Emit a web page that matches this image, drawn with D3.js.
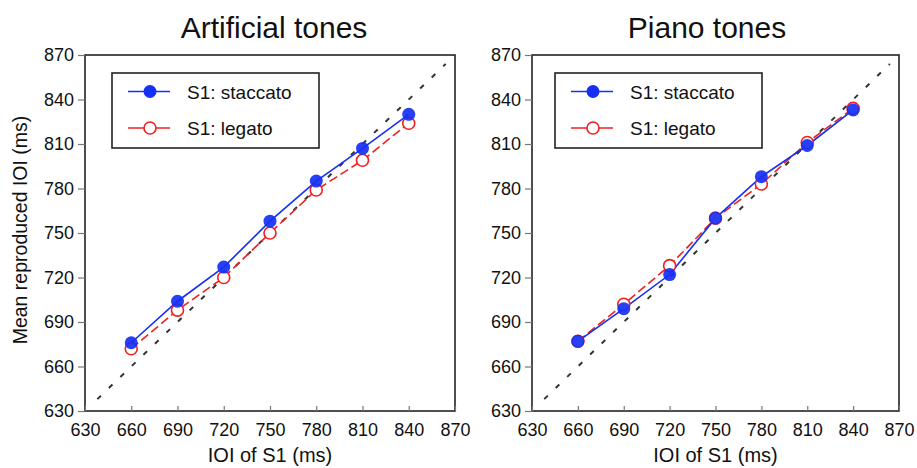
<!DOCTYPE html>
<html>
<head>
<meta charset="utf-8">
<script src="https://cdn.jsdelivr.net/npm/d3@7"></script>
<style>
  html, body { margin: 0; padding: 0; background: #fff; }
  svg { display: block; font-family: "Liberation Sans", Arial, Helvetica, sans-serif; }
</style>
</head>
<body>
<svg id="chart" width="917" height="468"></svg>
<script>
// S1 inter-onset intervals (ms)
const ioi = [660, 690, 720, 750, 780, 810, 840];

// Mean reproduced IOI (ms)
const artificialStaccato = [676, 704, 727, 758, 785, 807, 830];
const artificialLegato   = [672, 698, 720, 750, 779, 799, 824];
const pianoStaccato      = [677, 699, 722, 760, 788, 809, 833];
const pianoLegato        = [677, 702, 728, 760, 783, 811, 834];

const axisTicks = [630, 660, 690, 720, 750, 780, 810, 840, 870];
const axisDomain = [630, 870];
const identityLine = [638, 864];

const panelTitles = ["Artificial tones", "Piano tones"];
const seriesNames = ["S1: staccato", "S1: legato"];
const xTitle = "IOI of S1 (ms)";
const yTitle = "Mean reproduced IOI (ms)";

const BLUE = "#1530f5";
const RED = "#f02020";

const svg = d3.select("#chart");

const panels = [
  { title: panelTitles[0], left: 85, right: 455, titleX: 274,
    staccato: artificialStaccato, legato: artificialLegato, legendX: 112 },
  { title: panelTitles[1], left: 532, right: 899, titleX: 707,
    staccato: pianoStaccato, legato: pianoLegato, legendX: 555 }
];

const plotTop = 55, plotBottom = 411;

panels.forEach(p => {
  const x = d3.scaleLinear().domain(axisDomain).range([p.left, p.right]);
  const y = d3.scaleLinear().domain(axisDomain).range([plotBottom, plotTop]);
  const g = svg.append("g");

  // frame
  g.append("rect")
    .attr("x", p.left).attr("y", plotTop)
    .attr("width", p.right - p.left).attr("height", plotBottom - plotTop)
    .attr("fill", "#fff").attr("stroke", "#222").attr("stroke-width", 1.6);

  // x axis (ticks point into the plot)
  const xa = g.append("g").attr("transform", `translate(0,${plotBottom})`)
    .call(d3.axisBottom(x).tickValues(axisTicks).tickSize(-5).tickPadding(12).tickFormat(d3.format("d")));
  xa.select(".domain").remove();
  xa.selectAll(".tick line").attr("stroke", "#777").attr("stroke-width", 1.2);
  xa.selectAll(".tick text").attr("font-size", 18).attr("fill", "#111")
    .attr("font-family", "'Liberation Sans', Arial, sans-serif");

  // y axis (ticks point outward)
  const ya = g.append("g").attr("transform", `translate(${p.left},0)`)
    .call(d3.axisLeft(y).tickValues(axisTicks).tickSize(7).tickPadding(4).tickFormat(d3.format("d")));
  ya.select(".domain").remove();
  ya.selectAll(".tick line").attr("stroke", "#777").attr("stroke-width", 1.2);
  ya.selectAll(".tick text").attr("font-size", 18).attr("fill", "#111")
    .attr("font-family", "'Liberation Sans', Arial, sans-serif");

  // identity line
  g.append("line")
    .attr("x1", x(identityLine[0])).attr("y1", y(identityLine[0]))
    .attr("x2", x(identityLine[1])).attr("y2", y(identityLine[1]))
    .attr("stroke", "#333").attr("stroke-width", 2)
    .attr("stroke-dasharray", "5,11");

  const line = d3.line().x((d, i) => x(ioi[i])).y(d => y(d));

  // legato series
  g.append("path").datum(p.legato).attr("d", line)
    .attr("fill", "none").attr("stroke", RED).attr("stroke-width", 1.6)
    .attr("stroke-dasharray", "9,4");
  // staccato series
  g.append("path").datum(p.staccato).attr("d", line)
    .attr("fill", "none").attr("stroke", BLUE).attr("stroke-width", 1.6);

  g.selectAll(".leg").data(p.legato).enter().append("circle")
    .attr("cx", (d, i) => x(ioi[i])).attr("cy", d => y(d)).attr("r", 6)
    .attr("fill", "#fff").attr("stroke", RED).attr("stroke-width", 1.6);
  g.selectAll(".sta").data(p.staccato).enter().append("circle")
    .attr("cx", (d, i) => x(ioi[i])).attr("cy", d => y(d)).attr("r", 6.5)
    .attr("fill", BLUE).attr("fill-opacity", 0.92);

  // legend
  const lg = g.append("g").attr("transform", `translate(${p.legendX},73)`);
  lg.append("rect").attr("width", 207).attr("height", 75)
    .attr("fill", "#fff").attr("stroke", "#222").attr("stroke-width", 1.6);
  const rows = [18.5, 55];
  lg.append("line").attr("x1", 16).attr("x2", 58).attr("y1", rows[0]).attr("y2", rows[0])
    .attr("stroke", BLUE).attr("stroke-width", 1.6);
  lg.append("circle").attr("cx", 38).attr("cy", rows[0]).attr("r", 6.5).attr("fill", BLUE);
  lg.append("line").attr("x1", 16).attr("x2", 58).attr("y1", rows[1]).attr("y2", rows[1])
    .attr("stroke", RED).attr("stroke-width", 1.6);
  lg.append("circle").attr("cx", 38).attr("cy", rows[1]).attr("r", 6)
    .attr("fill", "#fff").attr("stroke", RED).attr("stroke-width", 1.6);
  seriesNames.forEach((s, i) => {
    lg.append("text").attr("x", 75).attr("y", rows[i] + 7)
      .attr("font-size", 19).attr("fill", "#111").text(s);
  });

  // titles
  svg.append("text").attr("x", p.titleX).attr("y", 38)
    .attr("text-anchor", "middle").attr("font-size", 30).attr("fill", "#111").text(p.title);
  svg.append("text").attr("x", (p.left + p.right) / 2).attr("y", 462)
    .attr("text-anchor", "middle").attr("font-size", 20).attr("fill", "#111").text(xTitle);
});

svg.append("text")
  .attr("transform", "translate(27,230) rotate(-90)")
  .attr("text-anchor", "middle").attr("font-size", 19.5).attr("fill", "#111").text(yTitle);
</script>
</body>
</html>
